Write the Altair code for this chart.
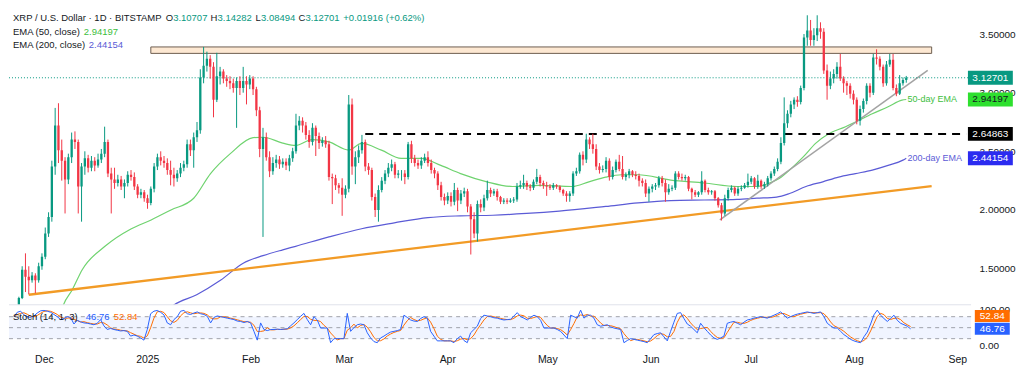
import altair as alt
import pandas as pd

FONT = "Liberation Sans, Arial, sans-serif"
TXT = "#131722"
UP = "#089981"
DOWN = "#F23645"
EMA50_C = "#6FD36F"
EMA50_TXT = "#3DBE3D"
EMA200_C = "#5B5BD6"
ORANGE = "#F29B26"
GRAY = "#A3A3A3"
K_C = "#2962FF"
D_C = "#FF6D00"

# ---------------- data ----------------
# day index relative to 1 Dec 2024 (first candle = 22 Nov 2024)
first_day = -9
first_open = 1.18
closes = [
    1.25, 1.49, 1.43, 1.40, 1.44, 1.40, 1.52, 1.60, 1.80, 1.94,
    2.37, 2.72, 2.51, 2.42, 2.26, 2.45, 2.60, 2.58, 2.20, 2.37,
    2.44, 2.36, 2.42, 2.38, 2.43, 2.48, 2.58, 2.31, 2.26, 2.23,
    2.26, 2.20, 2.23, 2.30, 2.28, 2.20, 2.13, 2.15, 2.10, 2.06,
    2.18, 2.37, 2.45, 2.42, 2.40, 2.34, 2.30, 2.27, 2.31, 2.36,
    2.39, 2.56, 2.51, 2.62, 2.68, 3.13, 3.23, 3.29, 3.22, 2.94,
    3.14, 3.18, 3.12, 3.10, 3.08, 3.04, 3.10, 3.04, 3.10, 3.07,
    3.12, 3.03, 2.85, 2.52, 2.62, 2.45, 2.33, 2.40, 2.43, 2.39,
    2.41, 2.38, 2.44, 2.50, 2.72, 2.76, 2.72, 2.64, 2.58, 2.70,
    2.63, 2.57, 2.59, 2.56, 2.28, 2.27, 2.21, 2.19, 2.13, 2.18,
    2.90, 2.37, 2.45, 2.51, 2.58, 2.37, 2.34, 2.11, 2.00, 2.17,
    2.25, 2.31, 2.36, 2.39, 2.30, 2.31, 2.31, 2.28, 2.56, 2.44,
    2.40, 2.38, 2.42, 2.45, 2.40, 2.34, 2.31, 2.21, 2.11, 2.08,
    2.12, 2.07, 2.17, 2.08, 2.14, 2.16, 2.03, 1.92, 1.80, 2.05,
    2.02, 2.10, 2.17, 2.14, 2.16, 2.11, 2.07, 2.08, 2.07, 2.08,
    2.09, 2.20, 2.21, 2.23, 2.20, 2.19, 2.24, 2.28, 2.23, 2.21,
    2.20, 2.19, 2.21, 2.20, 2.17, 2.14, 2.12, 2.14, 2.31, 2.33,
    2.47, 2.43, 2.60, 2.56, 2.52, 2.37, 2.34, 2.35, 2.42, 2.28,
    2.34, 2.41, 2.35, 2.28, 2.30, 2.33, 2.30, 2.29, 2.25, 2.23,
    2.14, 2.18, 2.20, 2.21, 2.27, 2.23, 2.15, 2.18, 2.19, 2.31,
    2.28, 2.27, 2.28, 2.18, 2.15, 2.13, 2.15, 2.25, 2.17, 2.15,
    2.16, 2.10, 2.04, 1.97, 2.10, 2.17, 2.19, 2.14, 2.18, 2.19,
    2.21, 2.24, 2.27, 2.20, 2.25, 2.20, 2.22, 2.27, 2.31, 2.35,
    2.41, 2.57, 2.74, 2.82, 2.90, 2.94, 2.92, 3.04, 3.47, 3.53,
    3.45, 3.49, 3.55, 3.52, 3.19, 3.06, 3.12, 3.16, 3.22, 3.12,
    3.08, 3.06, 2.99, 2.94, 2.76, 2.86, 2.93, 3.06, 3.00, 3.30,
    3.29, 3.22, 3.08, 3.24, 3.28, 3.04, 2.99, 3.08, 3.10707, 3.12701,
]
highs = [
    1.26, 1.52, 1.63, 1.52, 1.47, 1.46, 1.55, 1.63, 1.85, 1.98,
    2.42, 2.87, 2.91, 2.60, 2.45, 2.48, 2.66, 2.67, 2.60, 2.40,
    2.50, 2.47, 2.46, 2.45, 2.48, 2.52, 2.71, 2.60, 2.36, 2.36,
    2.30, 2.29, 2.26, 2.33, 2.34, 2.32, 2.22, 2.18, 2.17, 2.13,
    2.20, 2.40, 2.48, 2.50, 2.46, 2.44, 2.42, 2.36, 2.34, 2.40,
    2.42, 2.60, 2.60, 2.66, 2.75, 3.20, 3.39, 3.35, 3.32, 3.26,
    3.34, 3.22, 3.20, 3.15, 3.14, 3.12, 3.13, 3.14, 3.22, 3.14,
    3.15, 3.14, 3.05, 2.88, 2.70, 2.66, 2.50, 2.45, 2.47, 2.46,
    2.44, 2.44, 2.47, 2.53, 2.82, 2.80, 2.79, 2.75, 2.68, 2.74,
    2.72, 2.66, 2.62, 2.63, 2.59, 2.31, 2.30, 2.23, 2.27, 2.21,
    2.98, 2.95, 2.50, 2.55, 2.64, 2.60, 2.40, 2.36, 2.14, 2.21,
    2.28, 2.34, 2.40, 2.43, 2.41, 2.34, 2.34, 2.34, 2.58, 2.59,
    2.47, 2.43, 2.45, 2.48, 2.50, 2.43, 2.36, 2.33, 2.24, 2.14,
    2.15, 2.15, 2.23, 2.19, 2.17, 2.19, 2.18, 2.05, 1.98, 2.08,
    2.09, 2.13, 2.25, 2.19, 2.18, 2.18, 2.12, 2.10, 2.10, 2.10,
    2.11, 2.23, 2.25, 2.30, 2.25, 2.22, 2.26, 2.35, 2.30, 2.25,
    2.24, 2.22, 2.23, 2.22, 2.21, 2.18, 2.16, 2.16, 2.33, 2.36,
    2.49, 2.50, 2.65, 2.62, 2.65, 2.56, 2.40, 2.38, 2.45, 2.44,
    2.37, 2.43, 2.47, 2.46, 2.32, 2.35, 2.34, 2.33, 2.31, 2.27,
    2.26, 2.20, 2.22, 2.23, 2.29, 2.29, 2.26, 2.22, 2.21, 2.33,
    2.33, 2.31, 2.30, 2.29, 2.19, 2.17, 2.16, 2.33, 2.26, 2.19,
    2.17, 2.17, 2.11, 2.06, 2.13, 2.19, 2.21, 2.20, 2.20, 2.21,
    2.23, 2.31, 2.29, 2.28, 2.30, 2.26, 2.24, 2.29, 2.33, 2.37,
    2.44, 2.62, 2.96, 2.85, 2.93, 2.96, 2.97, 3.06, 3.50, 3.66,
    3.62, 3.55, 3.66, 3.60, 3.55, 3.24, 3.18, 3.20, 3.26, 3.33,
    3.14, 3.10, 3.08, 3.02, 2.96, 2.89, 2.95, 3.08, 3.08, 3.33,
    3.37, 3.31, 3.24, 3.27, 3.33, 3.33, 3.07, 3.15, 3.13, 3.14282,
]
lows = [
    1.16, 1.24, 1.30, 1.28, 1.38, 1.29, 1.38, 1.49, 1.58, 1.77,
    1.90, 2.30, 2.40, 2.25, 1.97, 2.22, 2.40, 2.52, 1.97, 1.90,
    2.30, 2.32, 2.33, 2.33, 2.36, 2.40, 2.45, 2.28, 1.97, 2.18,
    2.20, 2.17, 2.10, 2.20, 2.25, 2.17, 2.10, 2.10, 2.07, 2.01,
    2.04, 2.15, 2.34, 2.38, 2.36, 2.30, 2.21, 2.20, 2.24, 2.28,
    2.33, 2.36, 2.46, 2.36, 2.58, 2.65, 3.08, 3.18, 3.12, 2.79,
    2.92, 3.07, 3.08, 3.05, 3.03, 3.00, 2.70, 2.98, 3.00, 2.90,
    3.03, 2.98, 2.80, 2.45, 1.77, 2.42, 2.28, 2.30, 2.36, 2.35,
    2.36, 2.34, 2.33, 2.41, 2.48, 2.68, 2.66, 2.60, 2.53, 2.55,
    2.46, 2.52, 2.54, 2.53, 2.25, 2.05, 2.17, 2.14, 1.95, 2.10,
    2.15, 2.30, 2.22, 2.40, 2.48, 2.33, 2.30, 2.08, 1.94, 1.90,
    2.15, 2.22, 2.28, 2.33, 2.27, 2.27, 2.25, 2.22, 2.26, 2.40,
    2.37, 2.35, 2.35, 2.40, 2.37, 2.31, 2.27, 2.17, 2.08, 2.04,
    2.05, 2.03, 2.04, 1.99, 2.05, 2.11, 1.98, 1.62, 1.76, 1.73,
    1.98, 1.99, 2.08, 2.11, 2.12, 2.08, 2.05, 2.05, 2.05, 2.06,
    2.06, 2.07, 2.18, 2.18, 2.17, 2.16, 2.17, 2.22, 2.20, 2.18,
    2.12, 2.17, 2.17, 2.18, 2.15, 2.12, 2.07, 2.07, 2.12, 2.29,
    2.31, 2.38, 2.40, 2.52, 2.48, 2.34, 2.31, 2.32, 2.32, 2.25,
    2.26, 2.32, 2.33, 2.26, 2.25, 2.27, 2.28, 2.26, 2.20, 2.20,
    2.11, 2.07, 2.15, 2.17, 2.19, 2.20, 2.07, 2.13, 2.16, 2.17,
    2.26, 2.25, 2.25, 2.16, 2.09, 2.11, 2.11, 2.13, 2.15, 2.13,
    2.13, 2.08, 2.02, 1.91, 1.95, 2.08, 2.15, 2.12, 2.12, 2.16,
    2.18, 2.19, 2.22, 2.18, 2.18, 2.18, 2.18, 2.20, 2.25, 2.29,
    2.33, 2.39, 2.55, 2.70, 2.79, 2.86, 2.88, 2.90, 3.02, 3.40,
    3.40, 3.40, 3.44, 3.46, 3.16, 2.94, 3.03, 3.08, 3.12, 3.10,
    3.00, 2.98, 2.95, 2.90, 2.73, 2.72, 2.83, 2.90, 2.96, 2.98,
    3.24, 3.19, 3.05, 3.06, 3.22, 3.02, 2.97, 2.98, 3.06, 3.08494,
]
stoch_k = [
    80, 92, 95, 85, 80, 78, 82, 90, 96, 97,
    95, 92, 86, 80, 72, 75, 80, 78, 60, 70,
    66, 63, 62, 60, 58, 62, 72, 55, 45, 48,
    45, 43, 41, 42, 40, 27, 30, 27, 22, 16,
    45, 88, 95, 97, 92, 85, 63, 58, 72, 80,
    95, 97, 88, 86, 90, 93, 88, 86, 81, 63,
    78, 82, 80, 78, 76, 74, 72, 68, 67, 64,
    67, 63, 40, 16, 63, 45, 42, 45, 45, 46,
    45, 46, 47, 55, 63, 72, 81, 89, 72, 58,
    80, 71, 49, 49, 49, 9, 20, 20, 20, 20,
    89, 40, 50, 58, 60, 58, 36, 22, 12, 9,
    22, 27, 33, 38, 40, 42, 45, 84, 78, 71,
    68, 67, 75, 80, 76, 40, 27, 14, 14, 14,
    14, 14, 9, 20, 27, 15, 9, 36, 45, 54,
    75, 84, 82, 80, 77, 76, 73, 71, 72, 73,
    82, 91, 80, 76, 71, 78, 84, 80, 70, 49,
    49, 49, 49, 45, 40, 30, 20, 84, 80, 76,
    98, 76, 84, 84, 76, 58, 54, 56, 58, 52,
    49, 47, 45, 9, 15, 20, 18, 16, 14, 12,
    9, 20, 31, 34, 36, 25, 14, 40, 65, 89,
    91, 75, 60, 54, 45, 36, 62, 50, 40, 30,
    22, 18, 22, 27, 62, 65, 67, 62, 58, 65,
    71, 73, 76, 78, 80, 78, 76, 80, 84, 88,
    93, 85, 76, 80, 84, 87, 89, 91, 93, 91,
    89, 91, 93, 80, 62, 55, 49, 49, 40, 31,
    25, 18, 14, 11, 9, 25, 38, 60, 85, 98,
    84, 75, 67, 75, 84, 70, 62, 58, 54, 46.76,
]
ema50_days = [3, 4.5, 7.2, 10.2, 17.1, 25.1, 31.1, 37.1, 44.0, 49.1,
              55.1, 62.0, 65.0, 71.0, 74.9, 79.9, 85.0, 91.0, 94.9, 100.9,
              106.9, 112.9, 118.9, 124.9, 132.9, 140.7, 148.8, 158.7, 163.8, 168.9,
              173.7, 178.7, 188.6, 198.8, 208.7, 214.7, 218.6, 221.6, 224.6, 228.7,
              232.6, 236.5, 241.6, 244.6, 249.7, 254.5, 258.7, 260]
ema50_vals = [1.05, 1.19, 1.32, 1.49, 1.69, 1.84, 1.915, 2.00, 2.10, 2.31,
              2.48, 2.616, 2.62, 2.57, 2.55, 2.60, 2.58, 2.51, 2.567, 2.51,
              2.44, 2.44, 2.38, 2.31, 2.24, 2.20, 2.21, 2.20, 2.24, 2.28,
              2.30, 2.30, 2.255, 2.23, 2.20, 2.20, 2.23, 2.27, 2.34, 2.45,
              2.57, 2.65, 2.71, 2.75, 2.82, 2.88, 2.936, 2.94197]
ema200_days = [35, 38, 44.9, 52.1, 59.0, 65.0, 71.0, 74.9, 85.0, 94.9,
               104.8, 115.0, 124.9, 134.7, 144.9, 154.8, 168.9, 178.7, 188.6, 198.8,
               208.7, 214.7, 220.7, 224.6, 229.6, 234.7, 239.5, 244.6, 249.7, 254.5,
               259.0, 260]
ema200_vals = [1.12, 1.19, 1.277, 1.40, 1.546, 1.61, 1.66, 1.69, 1.77, 1.84,
               1.89, 1.935, 1.95, 1.955, 1.97, 1.99, 2.03, 2.06, 2.08, 2.085,
               2.09, 2.10, 2.11, 2.14, 2.20, 2.24, 2.28, 2.31, 2.34, 2.38,
               2.425, 2.44154]

support_days = [-6, 267.7]
support_vals = [1.277, 2.204]
rising_days = [203.5, 266.5]
rising_vals = [1.915, 3.19]
zone_days = [31, 267.7]
zone_prices = [3.335, 3.39]
level_start = 96
level_price = 2.64863
last_close = 3.12701
ema50_last = 2.94197
ema200_last = 2.44154
k_last = 46.76
d_last = 52.84

month_days = [0, 31, 62, 90, 121, 151, 182, 212, 243, 274]
month_labels = ["Dec", "2025", "Feb", "Mar", "Apr", "May", "Jun", "Jul", "Aug", "Sep"]
price_ticks = [1.5, 2.0, 2.5, 3.0, 3.5]
stoch_ticks = [0, 100]

# ---------------- layout ----------------
W = 964
H_MAIN = 297
H_STOCH = 47
X_DOMAIN = [-10.48, 278.14]
Y_DOMAIN = [1.1915, 3.719]
S_DOMAIN = [-15.5, 112.5]
TAG_X = 285.5
STAG_X = 284.5
HS = 9.5  # header font size

xs = alt.Scale(domain=X_DOMAIN, nice=False, zero=False)
ys = alt.Scale(domain=Y_DOMAIN, nice=False, zero=False)
ss = alt.Scale(domain=S_DOMAIN, nice=False, zero=False)

y_axis = alt.Axis(orient="right", values=price_ticks, format=".5f", ticks=False, domain=False,
                  grid=False, labelPadding=8, labelFont=FONT, labelFontSize=10,
                  labelColor=TXT, title=None)
s_axis = alt.Axis(orient="right", values=stoch_ticks, format=".2f", ticks=False, domain=False,
                  grid=False, labelPadding=8, labelFont=FONT, labelFontSize=10,
                  labelColor=TXT, title=None)
label_expr = " : ".join(f"datum.value == {d} ? '{l}'" for d, l in zip(month_days, month_labels)) + " : ''"
x_axis = alt.Axis(values=month_days, labelExpr=label_expr, ticks=False, domain=False, grid=False,
                  labelPadding=3, labelFont=FONT, labelFontSize=10.5, labelColor=TXT, title=None,
                  labelFlush=False, labelOverlap=False)


def MX(f):
    return alt.X(f, type="quantitative", scale=xs, axis=None)


def MY(f):
    return alt.Y(f, type="quantitative", scale=ys, axis=y_axis)


def SX(f):
    return alt.X(f, type="quantitative", scale=xs, axis=x_axis)


def SY(f):
    return alt.Y(f, type="quantitative", scale=ss, axis=s_axis)


def txt(s, x, y, color, size=HS, weight="normal"):
    return alt.Chart(pd.DataFrame({"s": [s]})).mark_text(
        align="left", baseline="middle", font=FONT, fontSize=size, color=color, fontWeight=weight
    ).encode(text="s:N", x=alt.value(x), y=alt.value(y))


def tag(value, label, fill, tcolor, xd, width, height, X, Y):
    df = pd.DataFrame({"xd": [xd], "v": [value], "s": [label]})
    h = height / width
    path = f"M-1,-{h:.4f}L1,-{h:.4f}L1,{h:.4f}L-1,{h:.4f}Z"
    box = alt.Chart(df).mark_point(shape=path, size=width * width, filled=True, color=fill,
                                   opacity=1, strokeWidth=0).encode(x=X("xd"), y=Y("v"))
    t = alt.Chart(df).mark_text(font=FONT, fontSize=10, color=tcolor, align="center",
                                baseline="middle").encode(x=X("xd"), y=Y("v"), text="s:N")
    return box + t


# ---------------- main panel ----------------
days = [first_day + i for i in range(len(closes))]
opens = [first_open] + closes[:-1]
cdf = pd.DataFrame({"day": days, "open": opens, "high": highs, "low": lows, "close": closes})
candle_color = alt.condition("datum.close >= datum.open", alt.value(UP), alt.value(DOWN))

zone = alt.Chart(pd.DataFrame({"x0": [zone_days[0]], "x1": [zone_days[1]],
                               "lo": [zone_prices[0]], "hi": [zone_prices[1]]})).mark_rect(
    fill="#FDE8D2", stroke="#6E5E50", strokeWidth=1).encode(
    x=MX("x0"), x2=alt.X2("x1"), y=MY("lo"), y2=alt.Y2("hi"))

ema200 = alt.Chart(pd.DataFrame({"day": ema200_days, "v": ema200_vals})).mark_line(
    color=EMA200_C, strokeWidth=1.2, interpolate="monotone", clip=True).encode(x=MX("day"), y=MY("v"))
ema50 = alt.Chart(pd.DataFrame({"day": ema50_days, "v": ema50_vals})).mark_line(
    color=EMA50_C, strokeWidth=1.2, interpolate="monotone", clip=True).encode(x=MX("day"), y=MY("v"))
support = alt.Chart(pd.DataFrame({"day": support_days, "v": support_vals})).mark_line(
    color=ORANGE, strokeWidth=2.3).encode(x=MX("day"), y=MY("v"))
rising = alt.Chart(pd.DataFrame({"day": rising_days, "v": rising_vals})).mark_line(
    color=GRAY, strokeWidth=1.6).encode(x=MX("day"), y=MY("v"))
level = alt.Chart(pd.DataFrame({"x0": [level_start], "x1": [X_DOMAIN[1]], "v": [level_price]})).mark_rule(
    color="#000000", strokeWidth=2, strokeDash=[8, 6]).encode(x=MX("x0"), x2=alt.X2("x1"), y=MY("v"))
price_line = alt.Chart(pd.DataFrame({"v": [last_close]})).mark_rule(
    color=UP, strokeWidth=1, strokeDash=[1, 2]).encode(y=MY("v"))

wicks = alt.Chart(cdf).mark_rule(strokeWidth=1, clip=True).encode(
    x=MX("day"), y=MY("low"), y2=alt.Y2("high"), color=candle_color)
bodies = alt.Chart(cdf).mark_bar(size=2.3, clip=True).encode(
    x=MX("day"), y=MY("open"), y2=alt.Y2("close"), color=candle_color)

ema_lbl = pd.DataFrame({"day": [260.4, 260.4], "v": [ema50_last, ema200_last],
                        "s": ["50-day EMA", "200-day EMA"]})
ema50_lbl = alt.Chart(ema_lbl.iloc[[0]]).mark_text(align="left", baseline="middle", font=FONT,
                                                   fontSize=9, color=EMA50_TXT).encode(
    x=MX("day"), y=MY("v"), text="s:N")
ema200_lbl = alt.Chart(ema_lbl.iloc[[1]]).mark_text(align="left", baseline="middle", font=FONT,
                                                    fontSize=9, color=EMA200_C).encode(
    x=MX("day"), y=MY("v"), text="s:N")

tags_main = (
    tag(last_close, "3.12701", UP, "#FFFFFF", TAG_X, 45, 14, MX, MY)
    + tag(ema50_last, "2.94197", "#2EE02E", "#131722", TAG_X, 45, 14, MX, MY)
    + tag(level_price, "2.64863", "#000000", "#FFFFFF", TAG_X, 45, 14, MX, MY)
    + tag(ema200_last, "2.44154", "#2B2BF0", "#FFFFFF", TAG_X, 45, 14, MX, MY)
)

header = (
    txt("XRP / U.S. Dollar · 1D · BITSTAMP", 4, 9.5, TXT)
    + txt("O", 157, 9.5, TXT) + txt("3.10707", 164.5, 9.5, UP)
    + txt("H", 202, 9.5, TXT) + txt("3.14282", 209, 9.5, UP)
    + txt("L", 247, 9.5, TXT) + txt("3.08494", 252.5, 9.5, UP)
    + txt("C", 290, 9.5, TXT) + txt("3.12701", 297, 9.5, UP)
    + txt("+0.01916 (+0.62%)", 335, 9.5, UP)
    + txt("EMA (50, close)", 4, 23.5, TXT) + txt("2.94197", 75, 23.5, EMA50_TXT)
    + txt("EMA (200, close)", 4, 37, TXT) + txt("2.44154", 80, 37, EMA200_C)
)

main = alt.layer(
    zone, ema200, ema50, support, rising, level, price_line, wicks, bodies,
    ema50_lbl, ema200_lbl, tags_main, header
).properties(width=W, height=H_MAIN)

# ---------------- stochastic panel ----------------
sdf = pd.DataFrame({"day": days, "k": stoch_k})
band = alt.Chart(pd.DataFrame({"lo": [20], "hi": [80]})).mark_rect(
    color="#2962FF", opacity=0.07).encode(x=alt.value(0), x2=alt.value(W), y=SY("lo"), y2=alt.Y2("hi"))
guides = alt.Chart(pd.DataFrame({"v": [20, 50, 80]})).mark_rule(
    color="#8A8D96", strokeDash=[4, 4], strokeWidth=1, opacity=0.8).encode(y=SY("v"))
sep = alt.Chart(pd.DataFrame({"v": [S_DOMAIN[1]]})).mark_rule(
    color="#E0E3EB", strokeWidth=1).encode(y=SY("v"))
d_line = alt.Chart(sdf).transform_window(
    dval="mean(k)", frame=[-2, 0], sort=[alt.SortField("day")]
).mark_line(color=D_C, strokeWidth=1).encode(x=SX("day"), y=SY("dval:Q"))
k_line = alt.Chart(sdf).mark_line(color=K_C, strokeWidth=1).encode(x=SX("day"), y=SY("k"))

tags_stoch = (
    tag(82, f"{d_last:.2f}", "#FF6D00", "#FFFFFF", STAG_X, 35, 12, SX, SY)
    + tag(47, f"{k_last:.2f}", "#2962FF", "#FFFFFF", STAG_X, 35, 12, SX, SY)
)
stoch_header = (
    txt("Stoch (14, 1, 3)", 4, 12, TXT)
    + txt(f"{k_last:.2f}", 77, 12, K_C)
    + txt(f"{d_last:.2f}", 105, 12, D_C)
)

stoch = alt.layer(band, guides, sep, d_line, k_line, tags_stoch, stoch_header).properties(
    width=W, height=H_STOCH)

chart = alt.vconcat(main, stoch, spacing=0, bounds="flush").resolve_scale(
    x="independent", y="independent"
).properties(padding=0, background="#FFFFFF").configure_view(stroke=None)

chart.save("out.html", embed_options={"renderer": "svg", "actions": False})
